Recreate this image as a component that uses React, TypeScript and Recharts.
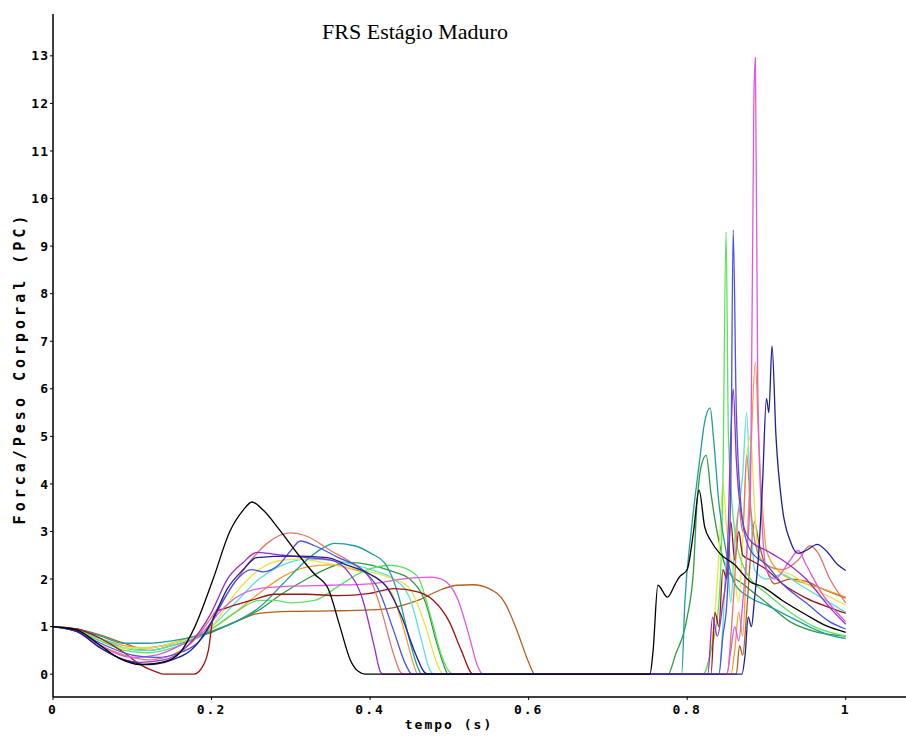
import { LineChart, Line, XAxis, YAxis } from "recharts";

type Pt = [number, number];

// tick values
const xTicks = [0, 0.2, 0.4, 0.6, 0.8, 1];
const yTicks = [0, 1, 2, 3, 4, 5, 6, 7, 8, 9, 10, 11, 12, 13];

// each trial: [tempo (s), força/PC]
const trialBlack: Pt[] = [
  [0, 1], [0.03, 0.93], [0.06, 0.6], [0.085, 0.32], [0.11, 0.2], [0.14, 0.26], [0.16, 0.45], [0.179, 1.0],
  [0.202, 2.0], [0.223, 3.0], [0.24, 3.45], [0.251, 3.62], [0.265, 3.45], [0.286, 3.03], [0.31, 2.5],
  [0.33, 2.1], [0.347, 1.8], [0.362, 1.0], [0.375, 0.3], [0.385, 0.06], [0.394, 0],
  [0.753, 0], [0.757, 0.5], [0.763, 1.87], [0.775, 1.62], [0.785, 1.9], [0.79, 2.04], [0.8, 2.2],
  [0.808, 3.0], [0.815, 3.87], [0.822, 3.1], [0.83, 2.8], [0.841, 2.54], [0.86, 2.3], [0.879, 1.95],
  [0.896, 1.83], [0.92, 1.55], [0.95, 1.25], [0.975, 1.02], [1.0, 0.88],
];
const trialBrown: Pt[] = [
  [0, 1], [0.03, 0.95], [0.06, 0.82], [0.09, 0.65], [0.11, 0.55], [0.14, 0.6], [0.17, 0.75], [0.2, 0.88],
  [0.23, 1.1], [0.26, 1.28], [0.3, 1.32], [0.35, 1.33], [0.4, 1.35], [0.43, 1.4], [0.46, 1.55],
  [0.49, 1.78], [0.51, 1.87], [0.53, 1.88], [0.55, 1.8], [0.57, 1.5], [0.585, 0.93], [0.6, 0.25], [0.608, 0],
  [0.862, 0], [0.866, 0.6], [0.87, 0.4], [0.875, 1.3], [0.88, 2.5], [0.885, 3.2], [0.89, 2.8], [0.9, 2.2],
  [0.91, 1.9], [0.93, 2.0], [0.95, 1.95], [0.97, 1.8], [1.0, 1.6],
];
const trialMaroon: Pt[] = [
  [0, 1], [0.03, 0.95], [0.06, 0.75], [0.09, 0.45], [0.11, 0.2], [0.13, 0.05], [0.14, 0], [0.178, 0],
  [0.19, 0.2], [0.197, 0.6], [0.2, 1.0], [0.205, 1.3], [0.22, 1.4], [0.25, 1.55], [0.28, 1.68], [0.32, 1.68],
  [0.36, 1.65], [0.4, 1.7], [0.43, 1.8], [0.46, 1.73], [0.48, 1.55], [0.5, 1.1], [0.515, 0.5], [0.53, 0],
  [0.83, 0], [0.835, 1.3], [0.84, 1.0], [0.845, 2.2], [0.85, 2.0], [0.855, 3.2], [0.86, 2.4], [0.865, 3.0],
  [0.87, 2.5], [0.88, 2.4], [0.9, 2.2], [0.92, 1.9], [0.95, 1.6], [0.98, 1.4], [1.0, 1.28],
];
const trialMagenta: Pt[] = [
  [0, 1], [0.03, 0.9], [0.06, 0.6], [0.1, 0.35], [0.13, 0.4], [0.16, 0.6], [0.19, 0.9], [0.21, 1.3],
  [0.23, 1.6], [0.26, 1.8], [0.3, 1.85], [0.35, 1.87], [0.4, 1.9], [0.44, 2.0], [0.476, 2.04], [0.49, 2.0],
  [0.51, 1.6], [0.525, 0.8], [0.535, 0.2], [0.542, 0],
  [0.85, 0], [0.855, 0.5], [0.86, 1.0], [0.865, 0.7], [0.87, 1.5], [0.875, 2.5], [0.88, 4], [0.884, 12],
  [0.886, 12.96], [0.889, 6], [0.895, 3], [0.9, 2.2], [0.91, 2.0], [0.93, 2.4], [0.94, 2.6], [0.95, 2.3],
  [0.97, 1.7], [1.0, 1.1],
];
const trialLightGreen: Pt[] = [
  [0, 1], [0.03, 0.9], [0.06, 0.7], [0.09, 0.5], [0.12, 0.45], [0.15, 0.55], [0.18, 0.75], [0.2, 0.95],
  [0.23, 1.3], [0.26, 1.55], [0.28, 1.55], [0.3, 1.5], [0.33, 1.55], [0.36, 1.85], [0.39, 2.15],
  [0.425, 2.29], [0.44, 2.25], [0.46, 2.05], [0.475, 1.3], [0.49, 0.4], [0.5, 0.05], [0.506, 0],
  [0.82, 0], [0.83, 0.5], [0.84, 1.5], [0.845, 4], [0.849, 9.3], [0.852, 5], [0.86, 3], [0.87, 2.3],
  [0.88, 2.0], [0.9, 1.7], [0.93, 1.3], [0.96, 1.0], [1.0, 0.8],
];
const trialYellow: Pt[] = [
  [0, 1], [0.03, 0.92], [0.06, 0.7], [0.09, 0.55], [0.12, 0.55], [0.15, 0.65], [0.18, 0.8], [0.2, 1.0],
  [0.23, 1.7], [0.26, 2.2], [0.29, 2.4], [0.31, 2.42], [0.34, 2.35], [0.37, 2.25], [0.4, 2.15], [0.43, 2.0],
  [0.45, 1.8], [0.47, 1.0], [0.485, 0.2], [0.492, 0],
  [0.82, 0], [0.83, 0.5], [0.84, 2.5], [0.845, 4], [0.85, 3], [0.86, 2], [0.865, 1.5], [0.87, 2.8],
  [0.875, 4.5], [0.88, 5.0], [0.885, 3.5], [0.89, 2.5], [0.9, 2.3], [0.93, 2.1], [0.96, 1.8], [1.0, 1.45],
];
const trialTeal: Pt[] = [
  [0, 1], [0.03, 0.95], [0.06, 0.8], [0.09, 0.65], [0.12, 0.65], [0.15, 0.7], [0.18, 0.8], [0.2, 0.9],
  [0.23, 1.1], [0.26, 1.4], [0.29, 1.9], [0.32, 2.4], [0.34, 2.65], [0.355, 2.75], [0.38, 2.7],
  [0.4, 2.55], [0.42, 2.3], [0.435, 1.7], [0.45, 0.7], [0.46, 0.15], [0.465, 0],
  [0.793, 0], [0.797, 1.5], [0.805, 3], [0.815, 4.4], [0.822, 5.3], [0.829, 5.6], [0.833, 5.0],
  [0.84, 3.6], [0.85, 2.5], [0.86, 1.9], [0.88, 1.6], [0.9, 1.45], [0.93, 1.2], [0.96, 0.95],
  [0.98, 0.82], [1.0, 0.75],
];
const trialNavy: Pt[] = [
  [0, 1], [0.03, 0.9], [0.06, 0.55], [0.09, 0.3], [0.12, 0.2], [0.15, 0.3], [0.18, 0.6], [0.2, 1.1],
  [0.22, 1.8], [0.24, 2.2], [0.257, 2.45], [0.3, 2.48], [0.346, 2.45], [0.37, 2.3], [0.4, 2.1],
  [0.42, 1.85], [0.44, 1.2], [0.458, 0.4], [0.468, 0.05], [0.472, 0],
  [0.869, 0], [0.873, 0.4], [0.877, 1.2], [0.881, 1.0], [0.885, 1.6], [0.89, 2.5], [0.895, 4],
  [0.9, 5.8], [0.903, 5.5], [0.907, 6.9], [0.912, 5], [0.92, 3.5], [0.93, 2.8], [0.94, 2.54],
  [0.95, 2.6], [0.964, 2.73], [0.975, 2.6], [0.99, 2.3], [1.0, 2.18],
];
const trialBlue: Pt[] = [
  [0, 1], [0.03, 0.9], [0.06, 0.65], [0.1, 0.4], [0.13, 0.35], [0.16, 0.45], [0.19, 0.8], [0.21, 1.4],
  [0.23, 1.95], [0.25, 2.2], [0.265, 2.15], [0.285, 2.3], [0.3, 2.6], [0.312, 2.8], [0.33, 2.7],
  [0.36, 2.45], [0.39, 2.2], [0.41, 1.8], [0.43, 0.9], [0.445, 0.2], [0.453, 0],
  [0.84, 0], [0.845, 0.8], [0.85, 1.5], [0.855, 4], [0.858, 9.34], [0.862, 5.5], [0.87, 3.2],
  [0.88, 2.6], [0.9, 2.3], [0.92, 1.9], [0.95, 1.5], [0.98, 1.1], [1.0, 0.95],
];
const trialSalmon: Pt[] = [
  [0, 1], [0.03, 0.9], [0.06, 0.6], [0.09, 0.4], [0.12, 0.3], [0.15, 0.4], [0.18, 0.75], [0.2, 1.2],
  [0.22, 1.7], [0.25, 2.4], [0.27, 2.75], [0.299, 2.97], [0.32, 2.9], [0.35, 2.6], [0.38, 2.3],
  [0.4, 2.0], [0.415, 1.3], [0.43, 0.4], [0.438, 0.05], [0.442, 0],
  [0.85, 0], [0.856, 1.0], [0.86, 2.0], [0.865, 3.5], [0.87, 3.0], [0.875, 4.6], [0.88, 3.5],
  [0.89, 2.5], [0.9, 2.3], [0.92, 2.2], [0.94, 2.4], [0.955, 2.7], [0.965, 2.55], [0.98, 2.0], [1.0, 1.5],
];
const trialPurple: Pt[] = [
  [0, 1], [0.03, 0.9], [0.06, 0.55], [0.09, 0.3], [0.11, 0.25], [0.14, 0.3], [0.17, 0.6], [0.2, 1.3],
  [0.22, 2.0], [0.24, 2.35], [0.257, 2.56], [0.29, 2.5], [0.32, 2.45], [0.35, 2.4], [0.37, 2.2],
  [0.39, 1.6], [0.405, 0.6], [0.413, 0.05], [0.416, 0],
  [0.826, 0], [0.832, 1.2], [0.838, 0.8], [0.845, 1.5], [0.85, 2.2], [0.855, 5], [0.858, 6.0],
  [0.862, 4.5], [0.87, 3.2], [0.88, 2.8], [0.9, 2.6], [0.92, 2.4], [0.95, 2.0], [0.98, 1.4], [1.0, 1.05],
];
const trialCyan: Pt[] = [
  [0, 1], [0.03, 0.92], [0.06, 0.75], [0.09, 0.55], [0.12, 0.5], [0.15, 0.6], [0.18, 0.8], [0.2, 1.0],
  [0.23, 1.5], [0.26, 2.0], [0.29, 2.3], [0.32, 2.42], [0.35, 2.4], [0.38, 2.3], [0.41, 2.15],
  [0.43, 2.0], [0.45, 1.6], [0.465, 0.7], [0.475, 0.1], [0.48, 0],
  [0.84, 0], [0.845, 1.0], [0.85, 2.5], [0.855, 1.5], [0.86, 2.8], [0.87, 4.2], [0.875, 5.5],
  [0.88, 3.5], [0.885, 2.2], [0.9, 2.0], [0.92, 2.1], [0.94, 1.9], [0.97, 1.6], [1.0, 1.3],
];
const trialGreen: Pt[] = [
  [0, 1], [0.03, 0.93], [0.06, 0.75], [0.09, 0.55], [0.12, 0.5], [0.15, 0.6], [0.18, 0.75], [0.2, 0.9],
  [0.23, 1.1], [0.26, 1.35], [0.29, 1.7], [0.32, 2.0], [0.35, 2.25], [0.37, 2.35], [0.4, 2.3],
  [0.43, 2.15], [0.45, 2.0], [0.47, 1.5], [0.485, 0.6], [0.495, 0.1], [0.498, 0],
  [0.776, 0], [0.785, 0.4], [0.8, 1.2], [0.808, 2.2], [0.812, 3.5], [0.818, 4.4], [0.824, 4.6],
  [0.83, 3.8], [0.84, 2.8], [0.85, 2.2], [0.87, 1.9], [0.9, 1.5], [0.93, 1.1], [0.96, 0.9], [1.0, 0.8],
];
const trialOrange: Pt[] = [
  [0, 1], [0.03, 0.93], [0.06, 0.75], [0.09, 0.6], [0.12, 0.55], [0.15, 0.65], [0.18, 0.8], [0.2, 0.95],
  [0.23, 1.3], [0.26, 1.7], [0.29, 2.05], [0.32, 2.25], [0.35, 2.3], [0.38, 2.2], [0.41, 2.0],
  [0.43, 1.6], [0.445, 0.8], [0.455, 0.2], [0.46, 0],
  [0.855, 0], [0.86, 0.5], [0.865, 1.3], [0.87, 0.8], [0.875, 2.5], [0.88, 4.5], [0.886, 6.56],
  [0.89, 5], [0.895, 3.5], [0.9, 2.6], [0.92, 2.1], [0.95, 1.9], [0.97, 1.8], [1.0, 1.62],
];

const trials = [
  trialBrown, trialOrange, trialGreen, trialCyan, trialYellow, trialLightGreen, trialTeal,
  trialMaroon, trialSalmon, trialMagenta, trialPurple, trialBlue, trialNavy, trialBlack,
];
const trialColors = [
  "#b0601c", "#f0a030", "#2e9a3e", "#5ae0e0", "#e6e640", "#5ce45c", "#1e9e9e",
  "#a01212", "#e0786a", "#e058e0", "#9a2ccc", "#4a52e6", "#1e1e96", "#000000",
];

const toRows = (pts: Pt[]) => pts.map(([t, v]) => ({ t, v }));

const monoFont = "'DejaVu Sans Mono', 'Liberation Mono', monospace";

export default function App() {
  return (
    <div style={{ position: "absolute", left: 0, top: 0, width: 906, height: 740, background: "#fff" }}>
      <LineChart width={906} height={740} margin={{ top: 14, right: 0, bottom: 0, left: 0 }}>
        <XAxis
          dataKey="t"
          type="number"
          domain={[0, 1.076]}
          ticks={xTicks}
          allowDataOverflow
          height={43}
          tickSize={3}
          tickMargin={5}
          axisLine={{ stroke: "#000", strokeWidth: 1.5 }}
          tickLine={{ stroke: "#000" }}
          tick={{ fill: "#000", fontSize: 13, fontWeight: 700, fontFamily: monoFont, letterSpacing: 2 }}
        />
        <YAxis
          type="number"
          domain={[-0.48, 13.88]}
          ticks={yTicks}
          allowDataOverflow
          width={53}
          tickSize={3}
          tickMargin={1}
          axisLine={{ stroke: "#000", strokeWidth: 1.5 }}
          tickLine={{ stroke: "#000" }}
          tick={{ fill: "#000", fontSize: 13, fontWeight: 700, fontFamily: monoFont, letterSpacing: 1 }}
        />
        {trials.map((pts, i) => (
          <Line
            key={i}
            data={toRows(pts)}
            dataKey="v"
            type="monotone"
            stroke={trialColors[i]}
            strokeWidth={1.3}
            dot={false}
            isAnimationActive={false}
          />
        ))}
      </LineChart>
      <div
        style={{
          position: "absolute", left: 295, top: 19, width: 240, textAlign: "center",
          fontFamily: "'Liberation Serif', 'DejaVu Serif', serif", fontSize: 22, color: "#000",
        }}
      >
        FRS Estágio Maduro
      </div>
      <div
        style={{
          position: "absolute", left: 20, top: 368, transform: "translate(-50%, -50%) rotate(-90deg)",
          whiteSpace: "nowrap", fontFamily: monoFont, fontWeight: 700, fontSize: 15, letterSpacing: 4,
        }}
      >
        Forca/Peso Corporal (PC)
      </div>
      <div
        style={{
          position: "absolute", left: 449, top: 724, transform: "translate(-50%, -50%)",
          whiteSpace: "nowrap", fontFamily: monoFont, fontWeight: 700, fontSize: 13, letterSpacing: 2,
        }}
      >
        tempo (s)
      </div>
    </div>
  );
}
